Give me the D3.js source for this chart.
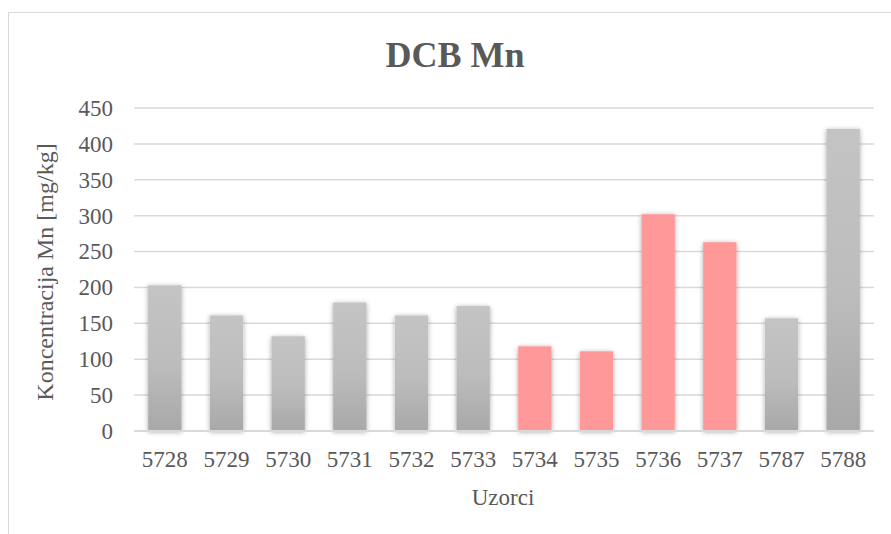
<!DOCTYPE html>
<html>
<head>
<meta charset="utf-8">
<script src="https://cdn.jsdelivr.net/npm/d3@7"></script>
<style>
  body { margin: 0; background: #fff; }
  svg { display: block; }
  svg text { font-family: "Liberation Serif", "Times New Roman", serif; fill: #595959; }
</style>
</head>
<body>
<svg id="chart" width="891" height="534"></svg>
<script>
// sample ids and Mn concentrations (mg/kg)
const samples = ["5728", "5729", "5730", "5731", "5732", "5733", "5734", "5735", "5736", "5737", "5787", "5788"];
const values = [203, 161, 132, 179, 161, 174, 118, 111, 302, 263, 157, 421];
const highlighted = ["5734", "5735", "5736", "5737"];
const yTicks = [0, 50, 100, 150, 200, 250, 300, 350, 400, 450];

const svg = d3.select("#chart");
const margin = { top: 108, right: 17, bottom: 103, left: 134 };
const width = 891 - margin.left - margin.right;
const height = 534 - margin.top - margin.bottom;

// outer frame (cropped at right/bottom like the original)
svg.append("rect")
    .attr("x", 8.5).attr("y", 12.5)
    .attr("width", 900).attr("height", 540)
    .attr("fill", "#fff")
    .attr("stroke", "#d9d9d9")
    .attr("stroke-width", 1);

const defs = svg.append("defs");
const grad = defs.append("linearGradient")
    .attr("id", "grayGrad")
    .attr("x1", 0).attr("y1", 0).attr("x2", 0).attr("y2", 1);
grad.append("stop").attr("offset", "0%").attr("stop-color", "#c4c4c4");
grad.append("stop").attr("offset", "55%").attr("stop-color", "#bcbcbc");
grad.append("stop").attr("offset", "100%").attr("stop-color", "#a8a8a8");

const shadow = defs.append("filter")
    .attr("id", "shadow")
    .attr("x", "-40%").attr("y", "-10%").attr("width", "180%").attr("height", "120%");
shadow.append("feDropShadow")
    .attr("dx", 0).attr("dy", 1)
    .attr("stdDeviation", 2.4)
    .attr("flood-color", "#000")
    .attr("flood-opacity", 0.35);

const g = svg.append("g").attr("transform", `translate(${margin.left},${margin.top})`);

const x = d3.scaleBand().domain(samples).range([0, width]).paddingInner(0.46).paddingOuter(0.23);
const y = d3.scaleLinear().domain([0, 450]).range([height, 0]);

// gridlines
g.append("g")
    .selectAll("line")
    .data(yTicks.filter(d => d > 0))
    .enter().append("line")
    .attr("x1", 0).attr("x2", width)
    .attr("y1", d => y(d)).attr("y2", d => y(d))
    .attr("stroke", "#d9d9d9")
    .attr("stroke-width", 1.5);

// bars
g.append("g")
    .selectAll("rect")
    .data(samples)
    .enter().append("rect")
    .attr("x", d => x(d))
    .attr("width", x.bandwidth())
    .attr("y", (d, i) => y(values[i]))
    .attr("height", (d, i) => height - y(values[i]))
    .attr("fill", d => highlighted.includes(d) ? "#ff9999" : "url(#grayGrad)")
    .attr("filter", "url(#shadow)");

// zero axis line
g.append("line")
    .attr("x1", 0).attr("x2", width)
    .attr("y1", height).attr("y2", height)
    .attr("stroke", "#d9d9d9")
    .attr("stroke-width", 2);

// y axis labels
const yAxis = g.append("g")
    .call(d3.axisLeft(y).tickValues(yTicks).tickSize(0).tickPadding(21));
yAxis.select(".domain").remove();
yAxis.attr("font-family", null);
yAxis.selectAll("text").style("font-size", "23px");

// x axis labels
const xAxis = g.append("g")
    .attr("transform", `translate(0,${height})`)
    .call(d3.axisBottom(x).tickSize(0).tickPadding(20));
xAxis.select(".domain").remove();
xAxis.attr("font-family", null);
xAxis.selectAll("text").style("font-size", "23px");

// title
svg.append("text")
    .attr("x", 455).attr("y", 67)
    .attr("text-anchor", "middle")
    .style("font-size", "36px")
    .style("font-weight", "bold")
    .text("DCB Mn");

// axis titles
svg.append("text")
    .attr("transform", "translate(53,272) rotate(-90)")
    .attr("text-anchor", "middle")
    .style("font-size", "24px")
    .text("Koncentracija Mn [mg/kg]");

svg.append("text")
    .attr("x", 503).attr("y", 505)
    .attr("text-anchor", "middle")
    .style("font-size", "23px")
    .text("Uzorci");
</script>
</body>
</html>
